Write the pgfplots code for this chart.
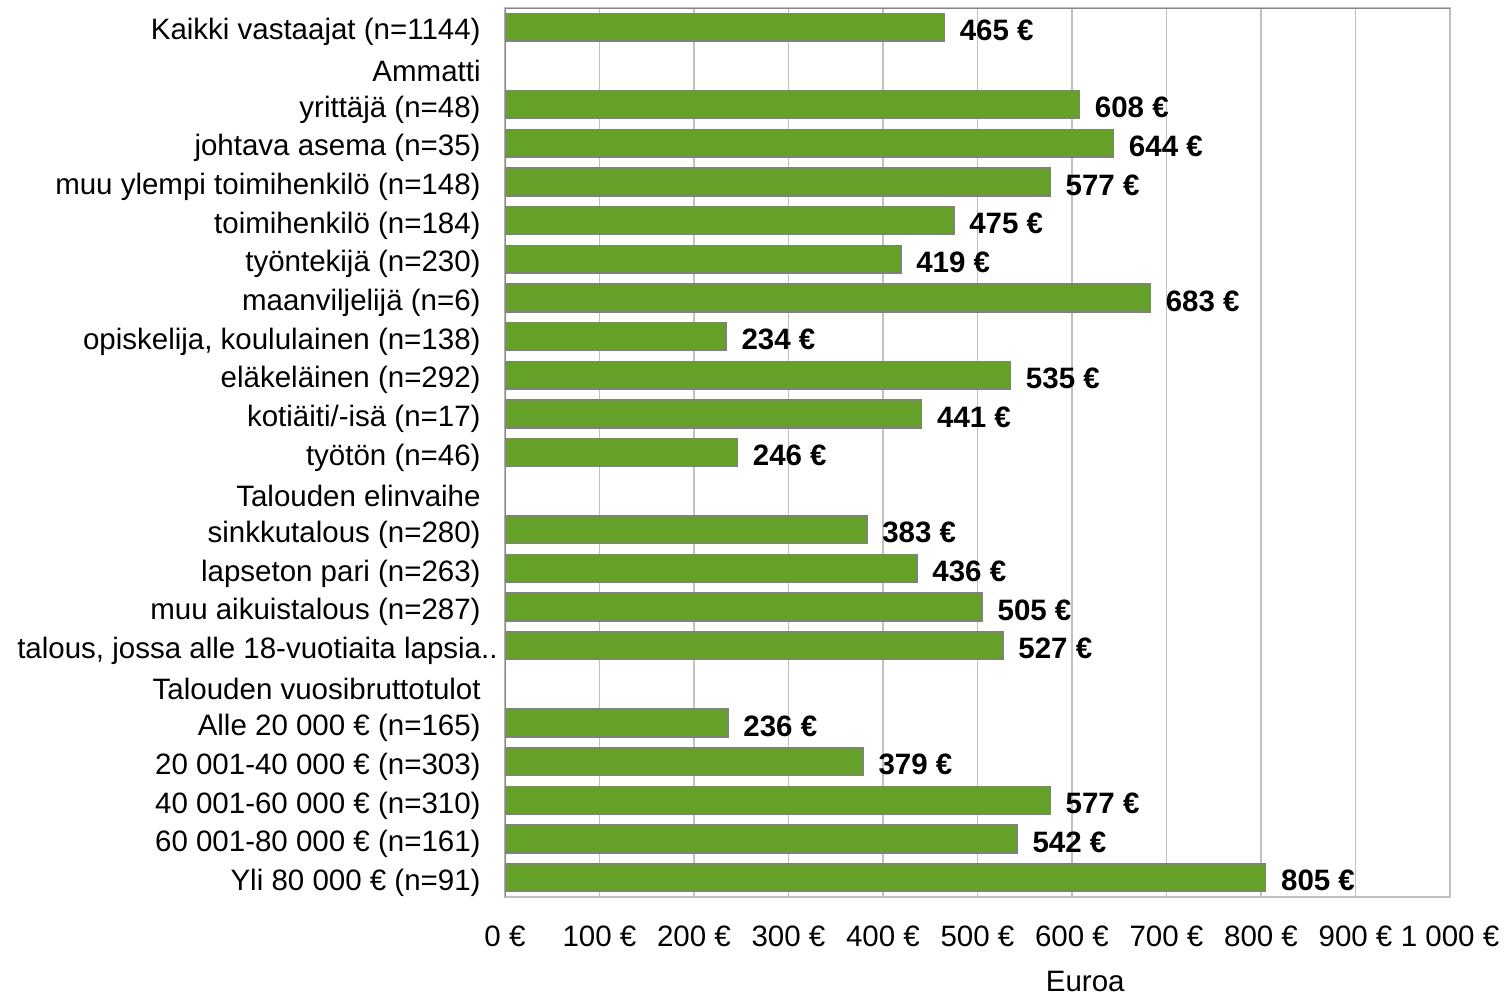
\documentclass[border=0pt]{standalone}
\usepackage{fontspec}
\setmainfont{Liberation Sans}
\usepackage{pgfplots}
\pgfplotsset{compat=1.18}
\definecolor{bargreen}{RGB}{101,160,41}
\definecolor{barborder}{RGB}{128,128,128}
\definecolor{gridgray}{RGB}{192,192,192}
\definecolor{axisgray}{RGB}{134,134,134}
\newcommand{\longlab}{\makebox[0pt][r]{talous, jossa alle 18-vuotiaita lapsia..}\kern-9bp}
\begin{document}
\begin{tikzpicture}
\begin{axis}[
  name=ax,
  scale only axis,
  width=472.5bp, height=444.5bp,
  xbar, bar width=0.72,
  y dir=reverse,
  xmin=0, xmax=1000,
  ymin=-0.5, ymax=22.5,
  xtick={0,100,...,1000},
  xticklabels={0 €,100 €,200 €,300 €,400 €,500 €,600 €,700 €,800 €,900 €,1 000 €},
  ytick={0,...,22},
  yticklabels={
    Kaikki vastaajat (n=1144),
    Ammatti,
    yrittäjä (n=48),
    johtava asema (n=35),
    muu ylempi toimihenkilö (n=148),
    toimihenkilö (n=184),
    työntekijä (n=230),
    maanviljelijä (n=6),
    {opiskelija, koululainen (n=138)},
    eläkeläinen (n=292),
    kotiäiti/-isä (n=17),
    työtön (n=46),
    Talouden elinvaihe,
    sinkkutalous (n=280),
    lapseton pari (n=263),
    muu aikuistalous (n=287),
    {\hspace*{9bp}\longlab},
    Talouden vuosibruttotulot,
    Alle 20 000 € (n=165),
    20 001-40 000 € (n=303),
    40 001-60 000 € (n=310),
    60 001-80 000 € (n=161),
    Yli 80 000 € (n=91)
  },
  major tick length=0pt,
  tick label style={font=\fontsize{14.8}{17}\selectfont},
  yticklabel style={anchor=east, inner sep=0pt, xshift=-12bp, yshift=-2.5bp},
  xticklabel style={anchor=north, inner sep=0pt, yshift=-14bp},
  xlabel={Euroa},
  xlabel style={font=\fontsize{14.8}{17}\selectfont, at={(axis description cs:0.614,0)}, anchor=center, yshift=-42bp},
  xmajorgrids, grid style={gridgray, line width=0.75bp},
  axis line style={gridgray, line width=0.75bp},
  nodes near coords={\pgfmathprintnumber[assume math mode=true]{\pgfplotspointmeta}~€},
  nodes near coords style={font=\fontsize{14.8}{17}\selectfont\bfseries, xshift=4bp, yshift=-1.5bp},
  point meta=x,
]
\addplot[fill=bargreen, draw=barborder, line width=0.75bp] table[x=v, y=r] {
r v
0 465
2 608
3 644
4 577
5 475
6 419
7 683
8 234
9 535
10 441
11 246
13 383
14 436
15 505
16 527
18 236
19 379
20 577
21 542
22 805
};
\draw[axisgray, line width=0.9bp] (rel axis cs:0,0) -- (rel axis cs:0,1) -- (rel axis cs:1,1);
\end{axis}
\pgfresetboundingbox
\path[use as bounding box] ([shift={(-252.5bp,-50.5bp)}]ax.south west) rectangle ([shift={(28bp,4bp)}]ax.north east);
\end{tikzpicture}
\end{document}
